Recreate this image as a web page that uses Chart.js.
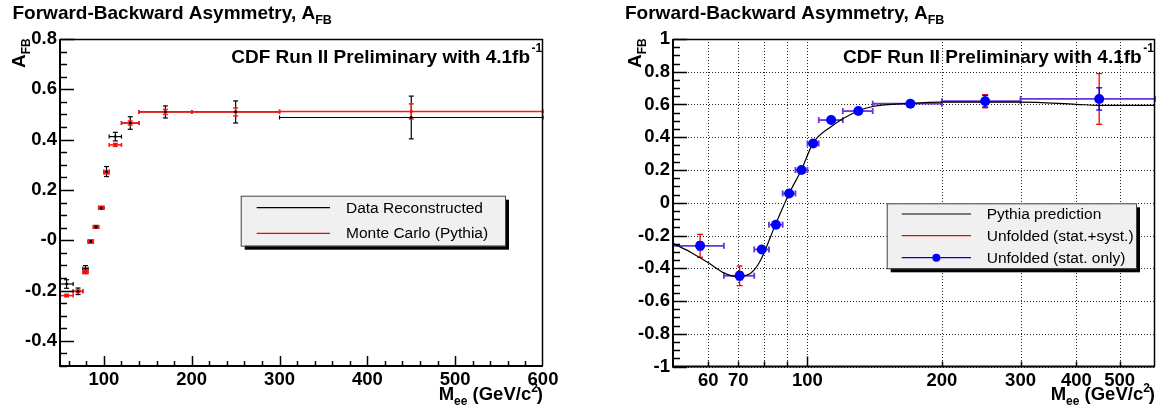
<!DOCTYPE html>
<html><head><meta charset="utf-8">
<script src="https://cdn.jsdelivr.net/npm/chart.js@4.4.1/dist/chart.umd.min.js"></script>
<style>
html,body{margin:0;padding:0;background:#fff;width:1160px;height:409px;overflow:hidden}
canvas{position:absolute;top:0}
#cL{left:0}
#cR{left:580px}
</style></head><body>
<canvas id="cL" width="580" height="409"></canvas>
<canvas id="cR" width="580" height="409"></canvas>
<script>
// ---------- data ----------
const binLow    = [50, 65, 76, 82, 88, 94, 100, 106, 120, 140, 200, 300];
const binHigh   = [65, 76, 82, 88, 94, 100, 106, 120, 140, 200, 300, 600];
const massCenter= [57.5, 70.5, 79, 85, 91, 97, 103, 113, 130, 170, 250, 450];

const recoAfb   = [-0.174, -0.203, -0.113, -0.005, 0.053, 0.129, 0.273, 0.412, 0.466, 0.510, 0.510, 0.488];
const recoErr   = [0.017, 0.013, 0.012, 0.006, 0.006, 0.006, 0.020, 0.017, 0.025, 0.024, 0.044, 0.085];
const mcAfb     = [-0.220, -0.203, -0.127, -0.005, 0.053, 0.129, 0.269, 0.379, 0.466, 0.510, 0.510, 0.512];
const mcErr     = [0.005, 0.005, 0.006, 0.004, 0.004, 0.004, 0.005, 0.006, 0.008, 0.010, 0.016, 0.030];

const unfoldedAfb     = [-0.263, -0.446, -0.285, -0.134, 0.057, 0.200, 0.362, 0.505, 0.560, 0.605, 0.620, 0.634];
const unfoldedStatErr = [0.025, 0.025, 0.012, 0.012, 0.010, 0.010, 0.012, 0.012, 0.012, 0.012, 0.035, 0.068];
const unfoldedTotErr  = [0.070, 0.060, 0.015, 0.015, 0.012, 0.012, 0.015, 0.015, 0.015, 0.015, 0.040, 0.155];

const pythiaMass = [50, 55, 60, 65, 70, 74, 76, 78.6, 85, 91, 96.9, 102.9, 112.9, 129.7, 140, 170, 200, 300, 400, 450, 600];
const pythiaAfb  = [-0.248, -0.305, -0.367, -0.428, -0.452, -0.437, -0.41, -0.350, -0.126, 0.057, 0.200, 0.363, 0.464, 0.560, 0.588, 0.607, 0.615, 0.615, 0.601, 0.595, 0.595];

const leftYTicks  = [-0.4, -0.2, 0, 0.2, 0.4, 0.6, 0.8];
const leftYLabels = ['-0.4', '-0.2', '-0', '0.2', '0.4', '0.6', '0.8'];
const leftXTicks  = [100, 200, 300, 400, 500, 600];
const leftXLabels = ['100', '200', '300', '400', '500', '600'];

const rightYTicks  = [-1, -0.8, -0.6, -0.4, -0.2, 0, 0.2, 0.4, 0.6, 0.8, 1];
const rightYLabels = ['-1', '-0.8', '-0.6', '-0.4', '-0.2', '0', '0.2', '0.4', '0.6', '0.8', '1'];
const rightXTicks  = [60, 70, 80, 90, 100, 200, 300, 400, 500];
const rightXLabels = ['60', '70', '', '', '100', '200', '300', '400', '500'];

const titleText = 'Forward-Backward Asymmetry, A';
const cdfText = 'CDF Run II Preliminary with 4.1fb';
const leftLegend  = [['Data Reconstructed', '#000000', false], ['Monte Carlo (Pythia)', '#ff0000', false]];
const rightLegend = [['Pythia prediction', '#000000', false], ['Unfolded (stat.+syst.)', '#ff0000', false], ['Unfolded (stat. only)', '#0000ff', true]];

// ---------- helpers ----------
const FAM = '"Liberation Sans", Arial, Helvetica, sans-serif';
const RED = '#ff0000', BLUE = '#0000ff', PURPLE = '#6a35d0';

function seg(ctx, x1, y1, x2, y2) { ctx.beginPath(); ctx.moveTo(x1, y1); ctx.lineTo(x2, y2); ctx.stroke(); }

function rich(ctx, x, y, parts, align) {
  let total = 0;
  for (const p of parts) {
    ctx.font = (p.normal ? '' : 'bold ') + p.size + 'px ' + FAM;
    p.w = ctx.measureText(p.t).width + (p.dx || 0);
    total += p.w;
  }
  let cx = align === 'right' ? x - total : x;
  ctx.textAlign = 'left'; ctx.textBaseline = 'alphabetic'; ctx.fillStyle = '#000';
  for (const p of parts) {
    ctx.font = (p.normal ? '' : 'bold ') + p.size + 'px ' + FAM;
    ctx.fillText(p.t, cx, y + (p.dy || 0));
    cx += p.w;
  }
}

function hBars(chart, yVals, color, lw, cap) {
  const xs = chart.scales.x, ys = chart.scales.y, ctx = chart.ctx;
  ctx.save(); ctx.strokeStyle = color; ctx.lineWidth = lw;
  for (let i = 0; i < yVals.length; i++) {
    const y = ys.getPixelForValue(yVals[i]);
    const x1 = xs.getPixelForValue(binLow[i]), x2 = xs.getPixelForValue(binHigh[i]);
    seg(ctx, x1, y, x2, y);
    if (cap) { seg(ctx, x1, y - cap, x1, y + cap); seg(ctx, x2, y - cap, x2, y + cap); }
  }
  ctx.restore();
}
function vBars(chart, yVals, errs, color, lw, cap) {
  const xs = chart.scales.x, ys = chart.scales.y, ctx = chart.ctx;
  ctx.save(); ctx.strokeStyle = color; ctx.lineWidth = lw;
  for (let i = 0; i < yVals.length; i++) {
    const x = xs.getPixelForValue(massCenter[i]);
    const y1 = ys.getPixelForValue(yVals[i] - errs[i]), y2 = ys.getPixelForValue(yVals[i] + errs[i]);
    seg(ctx, x, y1, x, y2);
    if (cap) { seg(ctx, x - cap, y1, x + cap, y1); seg(ctx, x - cap, y2, x + cap, y2); }
  }
  ctx.restore();
}

function frame(chart) {
  const a = chart.chartArea, ctx = chart.ctx;
  ctx.save(); ctx.strokeStyle = '#000';
  ctx.lineWidth = 1.5;
  seg(ctx, a.left, a.top + 0.5, a.right, a.top + 0.5);
  seg(ctx, a.right - 0.5, a.top, a.right - 0.5, a.bottom);
  ctx.lineWidth = 2;
  seg(ctx, a.left, a.top, a.left, a.bottom + 1);
  seg(ctx, a.left - 1, a.bottom, a.right, a.bottom);
  ctx.restore();
}

function yTicksInward(chart, lo, hi, major, minorStep) {
  const ys = chart.scales.y, a = chart.chartArea, ctx = chart.ctx;
  ctx.save(); ctx.strokeStyle = '#000'; ctx.lineWidth = 1.5;
  const n = Math.round((hi - lo) / minorStep);
  for (let k = 0; k <= n; k++) {
    const v = lo + k * minorStep;
    const isMajor = Math.abs(v / major - Math.round(v / major)) < 1e-6;
    const y = Math.round(ys.getPixelForValue(v)) + 0.5;
    seg(ctx, a.left, y, a.left + (isMajor ? 14 : 7), y);
  }
  ctx.restore();
}

function legendBox(ctx, x1, y1, x2, y2, rows, rowY, lx1, lx2, tx) {
  ctx.save();
  ctx.fillStyle = '#000'; ctx.fillRect(x1 + 4, y1 + 4, x2 - x1, y2 - y1);
  ctx.fillStyle = '#f0f0f0'; ctx.fillRect(x1, y1, x2 - x1, y2 - y1);
  ctx.strokeStyle = '#444'; ctx.lineWidth = 1; ctx.strokeRect(x1 + 0.5, y1 + 0.5, x2 - x1, y2 - y1);
  rows.forEach((r, i) => {
    const y = rowY[i];
    ctx.strokeStyle = r[1]; ctx.lineWidth = 1.2;
    seg(ctx, lx1, y, lx2, y);
    if (r[2]) { ctx.fillStyle = r[1]; ctx.beginPath(); ctx.arc((lx1 + lx2) / 2, y, 4, 0, Math.PI * 2); ctx.fill(); }
    ctx.fillStyle = '#000'; ctx.font = '15.5px ' + FAM; ctx.textAlign = 'left'; ctx.textBaseline = 'alphabetic';
    ctx.fillText(r[0], tx, y + 5);
  });
  ctx.restore();
}

function texts(ctx, titleX, cdfRight, yTitleX, xTitleRight) {
  rich(ctx, titleX, 18.5, [{ t: titleText, size: 19 }, { t: 'FB', size: 12.5, dy: 5 }]);
  rich(ctx, cdfRight, 63.3, [{ t: cdfText, size: 19 }], 'right');
  rich(ctx, cdfRight + 1.5, 52, [{ t: '-1', size: 12 }]);
  ctx.save(); ctx.translate(yTitleX, 68); ctx.rotate(-Math.PI / 2);
  rich(ctx, 0, 0, [{ t: 'A', size: 19 }, { t: 'FB', size: 12, dy: 5 }]);
  ctx.restore();
  rich(ctx, xTitleRight, 400, [{ t: 'M', size: 18.5 }, { t: 'ee', size: 12, dy: 5 }, { t: ' (GeV/c', size: 18.5 }, { t: '2', size: 12, dy: -8, dx: -1 }, { t: ')', size: 18.5 }], 'right');
}

function tickFont() { return { family: FAM, size: 18.5, weight: 'bold' }; }

// ---------- left chart ----------
const leftDeco = {
  id: 'leftDeco',
  beforeDatasetsDraw(chart) {
    hBars(chart, recoAfb, '#000', 1.2, 2);
    vBars(chart, recoAfb, recoErr, '#000', 1.2, 2.5);
    hBars(chart, mcAfb, '#ff1a1a', 1.6, 2);
    vBars(chart, mcAfb, mcErr, '#ff1a1a', 1.5, 2.5);
  },
  afterDatasetsDraw(chart) {
    frame(chart);
    yTicksInward(chart, -0.5, 0.8, 0.2, 0.05);
    const xs = chart.scales.x, a = chart.chartArea, ctx = chart.ctx;
    ctx.save(); ctx.strokeStyle = '#000'; ctx.lineWidth = 1.5;
    for (let v = 60; v < 600; v += 20) {
      const x = Math.round(xs.getPixelForValue(v)) + 0.5;
      seg(ctx, x, a.bottom, x, a.bottom - (v % 100 === 0 ? 10 : 5));
    }
    ctx.restore();
  },
  afterDraw(chart) {
    const ctx = chart.ctx;
    legendBox(ctx, 240.7, 195.7, 505, 245.7, leftLegend, [207.7, 233.3], 256.7, 330, 346);
    texts(ctx, 12.5, 530, 25, 543);
  }
};

new Chart(document.getElementById('cL'), {
  type: 'scatter',
  data: {
    datasets: [
      { label: 'Data Reconstructed', data: massCenter.map((m, i) => ({ x: m, y: recoAfb[i] })),
        pointStyle: 'circle', pointRadius: 1.4, backgroundColor: '#000', borderWidth: 0, order: 1 },
      { label: 'Monte Carlo (Pythia)', data: massCenter.map((m, i) => ({ x: m, y: mcAfb[i] })),
        pointStyle: 'rect', pointRadius: 1.8, backgroundColor: RED, borderWidth: 0, order: 2 }
    ]
  },
  options: {
    responsive: false, animation: false, devicePixelRatio: 1,
    layout: { padding: { left: 0, top: 39, right: 37, bottom: 0 } },
    plugins: { legend: { display: false }, tooltip: { enabled: false } },
    scales: {
      x: {
        type: 'linear', min: 50, max: 600,
        afterBuildTicks: s => { s.ticks = leftXTicks.map(v => ({ value: v })); },
        afterFit: s => { s.height = 43; },
        grid: { display: false, drawTicks: false }, border: { display: false },
        ticks: { padding: 3, color: '#000', font: tickFont(), maxRotation: 0, autoSkip: false,
                 callback: (v, i) => leftXLabels[i] }
      },
      y: {
        type: 'linear', min: -0.5, max: 0.8,
        afterBuildTicks: s => { s.ticks = leftYTicks.map(v => ({ value: v })); },
        afterFit: s => { s.width = 60; },
        grid: { display: false, drawTicks: false }, border: { display: false },
        ticks: { padding: 3, color: '#000', font: tickFont(), autoSkip: false,
                 callback: (v, i) => leftYLabels[i] }
      }
    }
  },
  plugins: [leftDeco]
});

// ---------- right chart ----------
const rightDeco = {
  id: 'rightDeco',
  beforeDatasetsDraw(chart) {
    const xs = chart.scales.x, ys = chart.scales.y, a = chart.chartArea, ctx = chart.ctx;
    ctx.save(); ctx.strokeStyle = '#222'; ctx.lineWidth = 1; ctx.setLineDash([1, 2]);
    rightXTicks.forEach(v => { const x = Math.round(xs.getPixelForValue(v)) + 0.5; seg(ctx, x, a.top, x, a.bottom); });
    rightYTicks.forEach(v => { const y = Math.round(ys.getPixelForValue(v)) + 0.5; seg(ctx, a.left, y, a.right, y); });
    ctx.restore();
    vBars(chart, unfoldedAfb, unfoldedTotErr, RED, 1.3, 3);
    hBars(chart, unfoldedAfb, PURPLE, 1.8, 3);
    vBars(chart, unfoldedAfb, unfoldedStatErr, BLUE, 1.3, 3);
  },
  afterDatasetsDraw(chart) {
    frame(chart);
    yTicksInward(chart, -1, 1, 0.2, 0.05);
    const xs = chart.scales.x, a = chart.chartArea, ctx = chart.ctx;
    ctx.save(); ctx.strokeStyle = '#000'; ctx.lineWidth = 1.5;
    rightXTicks.forEach(v => {
      const x = Math.round(xs.getPixelForValue(v)) + 0.5;
      seg(ctx, x, a.bottom, x, a.bottom - (v === 100 ? 10 : 5));
    });
    ctx.restore();
  },
  afterDraw(chart) {
    const ctx = chart.ctx;
    legendBox(ctx, 306.7, 203.3, 556, 268.3, rightLegend, [214, 235.7, 257.7], 321.7, 391, 406.7);
    texts(ctx, 45, 561.7, 61, 575);
  }
};

new Chart(document.getElementById('cR'), {
  type: 'scatter',
  data: {
    datasets: [
      { label: 'Unfolded (stat. only)', data: massCenter.map((m, i) => ({ x: m, y: unfoldedAfb[i] })),
        pointStyle: 'circle', pointRadius: 5, backgroundColor: BLUE, borderWidth: 0, order: 1 },
      { type: 'line', label: 'Pythia prediction', data: pythiaMass.map((m, i) => ({ x: m, y: pythiaAfb[i] })),
        borderColor: '#000', borderWidth: 1.2, pointRadius: 0, showLine: true, fill: false,
        cubicInterpolationMode: 'monotone', order: 2 }
    ]
  },
  options: {
    responsive: false, animation: false, devicePixelRatio: 1,
    layout: { padding: { left: 0, top: 39, right: 4, bottom: 0 } },
    plugins: { legend: { display: false }, tooltip: { enabled: false } },
    scales: {
      x: {
        type: 'logarithmic', min: 50, max: 600,
        afterBuildTicks: s => { s.ticks = rightXTicks.map(v => ({ value: v })); },
        afterFit: s => { s.height = 42.5; },
        grid: { display: false, drawTicks: false }, border: { display: false },
        ticks: { padding: 3, color: '#000', font: tickFont(), maxRotation: 0, autoSkip: false,
                 callback: (v, i) => rightXLabels[i] }
      },
      y: {
        type: 'linear', min: -1, max: 1,
        afterBuildTicks: s => { s.ticks = rightYTicks.map(v => ({ value: v })); },
        afterFit: s => { s.width = 93; },
        grid: { display: false, drawTicks: false }, border: { display: false },
        ticks: { padding: 3, color: '#000', font: tickFont(), autoSkip: false,
                 callback: (v, i) => rightYLabels[i] }
      }
    }
  },
  plugins: [rightDeco]
});
</script>
</body></html>
